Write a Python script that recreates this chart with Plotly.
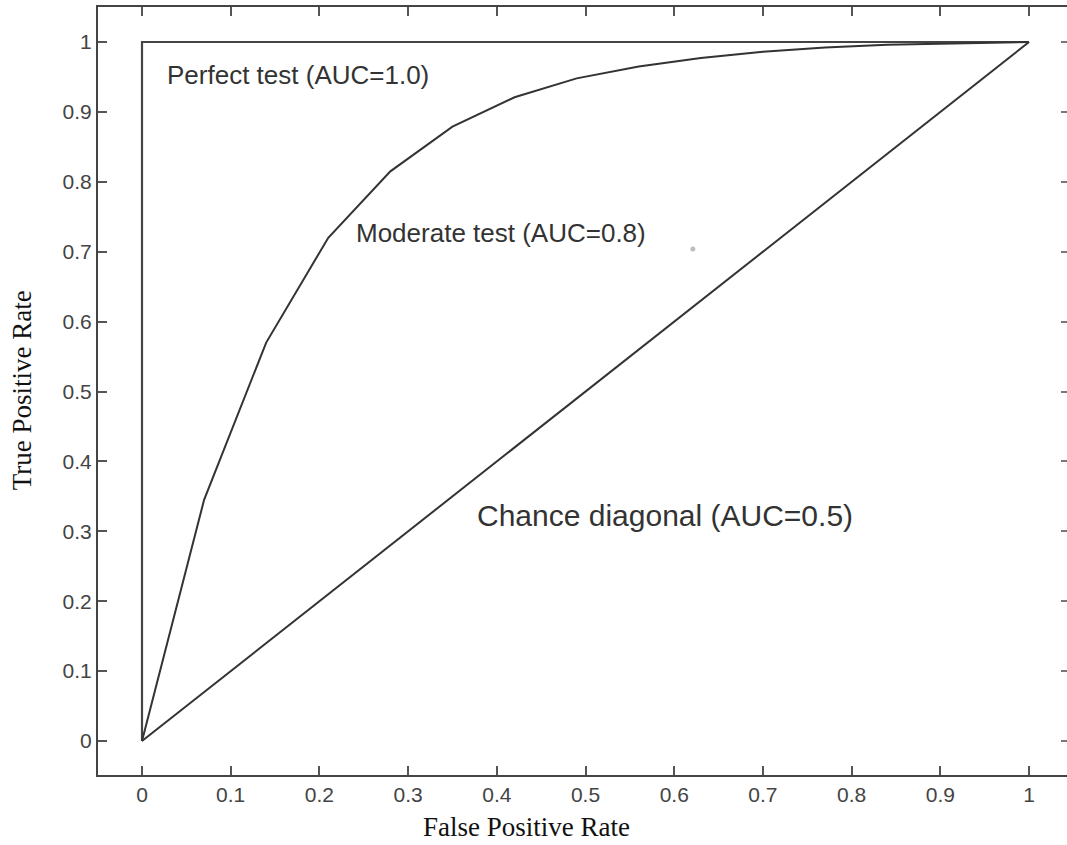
import plotly.graph_objects as go

# ---- data ----
perfect_fpr = [0, 0, 1]
perfect_tpr = [0, 1, 1]

chance_fpr = [0, 1]
chance_tpr = [0, 1]

moderate_fpr = [0, 0.07, 0.14, 0.21, 0.28, 0.35, 0.42, 0.49, 0.56, 0.63, 0.70, 0.77, 0.84, 0.91, 1.0]
moderate_tpr = [0, 0.345, 0.57, 0.72, 0.815, 0.879, 0.921, 0.948, 0.965, 0.977, 0.986, 0.992, 0.996, 0.998, 1.0]

dot_fpr = [0.621]
dot_tpr = [0.704]

tick_vals = [0, 0.1, 0.2, 0.3, 0.4, 0.5, 0.6, 0.7, 0.8, 0.9, 1]
tick_text = ["0", "0.1", "0.2", "0.3", "0.4", "0.5", "0.6", "0.7", "0.8", "0.9", "1"]

labels = ["Perfect test (AUC=1.0)", "Moderate test (AUC=0.8)", "Chance diagonal (AUC=0.5)"]
label_x = [0.176, 0.405, 0.590]
label_y = [0.953, 0.727, 0.323]
label_size = [26, 26, 30]

line_color = "#333333"

fig = go.Figure()
fig.add_trace(go.Scatter(x=perfect_fpr, y=perfect_tpr, mode="lines",
                         line=dict(color="#444444", width=2.2), showlegend=False))
fig.add_trace(go.Scatter(x=chance_fpr, y=chance_tpr, mode="lines",
                         line=dict(color=line_color, width=2), showlegend=False))
fig.add_trace(go.Scatter(x=moderate_fpr, y=moderate_tpr, mode="lines",
                         line=dict(color=line_color, width=2), showlegend=False))
fig.add_trace(go.Scatter(x=dot_fpr, y=dot_tpr, mode="markers",
                         marker=dict(color="#bdbdbd", size=5), showlegend=False))
# invisible trace on right axis so it renders
fig.add_trace(go.Scatter(x=[0], y=[0], yaxis="y2", mode="markers",
                         marker=dict(opacity=0), showlegend=False, hoverinfo="skip"))

for t, x, y, s in zip(labels, label_x, label_y, label_size):
    fig.add_annotation(x=x, y=y, xref="x", yref="y", text=t, showarrow=False,
                       font=dict(family="Liberation Sans, Arial", size=s, color="#333333"),
                       xanchor="center", yanchor="middle")

fig.add_annotation(x=0.4427, y=-0.068, xref="paper", yref="paper", text="False Positive Rate",
                   showarrow=False, xanchor="center", yanchor="middle",
                   font=dict(family="Liberation Serif, Times New Roman", size=27, color="#111111"))
fig.add_annotation(x=-0.0784, y=0.501, xref="paper", yref="paper", text="True Positive Rate",
                   showarrow=False, xanchor="center", yanchor="middle", textangle=-90,
                   font=dict(family="Liberation Serif, Times New Roman", size=27, color="#111111"))

tickfont = dict(family="Liberation Sans, Arial", size=21, color="#444444")

fig.update_layout(
    width=1067, height=845,
    margin=dict(l=98, r=0, t=7, b=70),
    paper_bgcolor="white", plot_bgcolor="white",
    xaxis=dict(range=[-0.0496, 1.0428], tickvals=tick_vals, ticktext=tick_text,
               showgrid=False, zeroline=False, showline=True, linecolor="#444444", linewidth=2,
               mirror="ticks", ticks="inside", ticklen=9, tickwidth=1.5, tickcolor="#555555",
               tickfont=tickfont),
    yaxis=dict(range=[-0.0486, 1.0501], tickvals=tick_vals, ticktext=tick_text,
               showgrid=False, zeroline=False, showline=True, linecolor="#444444", linewidth=2,
               mirror=False, ticks="inside", ticklen=9, tickwidth=1.5, tickcolor="#555555",
               tickfont=tickfont),
    yaxis2=dict(range=[-0.0486, 1.0501], tickvals=tick_vals, overlaying="y", side="right",
                showgrid=False, zeroline=False, showline=False, showticklabels=False,
                ticks="inside", ticklen=6, tickwidth=1.5, tickcolor="#777777"),
)

fig.write_html("out.html")
